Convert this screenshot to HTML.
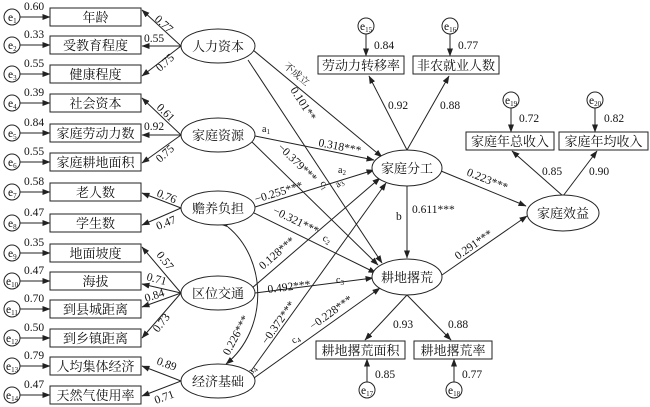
<!DOCTYPE html>
<html><head><meta charset="utf-8"><style>
html,body{margin:0;padding:0;background:#fff}
svg{display:block}
text{font-family:"Liberation Serif","Noto Serif CJK SC","Noto Sans CJK SC",serif;fill:#111}
.b{fill:#fff;stroke:#222;stroke-width:1}
.l{stroke:#222;stroke-width:1;fill:none}
.c{font-size:13px}
.n{font-size:11.5px}
.s{font-size:10px}
</style></head><body>
<svg width="650" height="407" viewBox="0 0 650 407" xmlns="http://www.w3.org/2000/svg">
<defs><marker id="a" markerWidth="8" markerHeight="6" refX="7.5" refY="3" orient="auto" markerUnits="userSpaceOnUse"><path d="M0,0 L8,3 L0,6 Z" fill="#222"/></marker></defs>

<!-- left indicators -->
<g id="left">
<rect class="b" x="50" y="8" width="91" height="18"/><text class="c" x="95.5" y="22" text-anchor="middle">年龄</text>
<rect class="b" x="50" y="36" width="91" height="18"/><text class="c" x="95.5" y="50" text-anchor="middle">受教育程度</text>
<rect class="b" x="50" y="65" width="91" height="18"/><text class="c" x="95.5" y="79" text-anchor="middle">健康程度</text>
<rect class="b" x="50" y="94" width="91" height="18"/><text class="c" x="95.5" y="108" text-anchor="middle">社会资本</text>
<rect class="b" x="50" y="124" width="91" height="18"/><text class="c" x="95.5" y="138" text-anchor="middle">家庭劳动力数</text>
<rect class="b" x="50" y="153" width="91" height="18"/><text class="c" x="95.5" y="167" text-anchor="middle">家庭耕地面积</text>
<rect class="b" x="50" y="183" width="91" height="18"/><text class="c" x="95.5" y="197" text-anchor="middle">老人数</text>
<rect class="b" x="50" y="214" width="91" height="18"/><text class="c" x="95.5" y="228" text-anchor="middle">学生数</text>
<rect class="b" x="50" y="244" width="91" height="18"/><text class="c" x="95.5" y="258" text-anchor="middle">地面坡度</text>
<rect class="b" x="50" y="272" width="91" height="18"/><text class="c" x="95.5" y="286" text-anchor="middle">海拔</text>
<rect class="b" x="50" y="300" width="91" height="18"/><text class="c" x="95.5" y="314" text-anchor="middle">到县城距离</text>
<rect class="b" x="50" y="329" width="91" height="18"/><text class="c" x="95.5" y="343" text-anchor="middle">到乡镇距离</text>
<rect class="b" x="50" y="357" width="91" height="18"/><text class="c" x="95.5" y="371" text-anchor="middle">人均集体经济</text>
<rect class="b" x="50" y="386" width="91" height="18"/><text class="c" x="95.5" y="400" text-anchor="middle">天然气使用率</text>
</g>
<!-- e circles -->
<g>
<circle class="b" cx="12" cy="17" r="8"/><text class="n" x="8" y="21">e<tspan font-size="7" dy="2">1</tspan></text><line class="l" x1="20" y1="17" x2="50" y2="17" marker-end="url(#a)"/><text class="n" x="24" y="10">0.60</text>
<circle class="b" cx="12" cy="45" r="8"/><text class="n" x="8" y="49">e<tspan font-size="7" dy="2">2</tspan></text><line class="l" x1="20" y1="45" x2="50" y2="45" marker-end="url(#a)"/><text class="n" x="24" y="38">0.33</text>
<circle class="b" cx="12" cy="74" r="8"/><text class="n" x="8" y="78">e<tspan font-size="7" dy="2">3</tspan></text><line class="l" x1="20" y1="74" x2="50" y2="74" marker-end="url(#a)"/><text class="n" x="24" y="67">0.55</text>
<circle class="b" cx="12" cy="103" r="8"/><text class="n" x="8" y="107">e<tspan font-size="7" dy="2">4</tspan></text><line class="l" x1="20" y1="103" x2="50" y2="103" marker-end="url(#a)"/><text class="n" x="24" y="96">0.39</text>
<circle class="b" cx="12" cy="133" r="8"/><text class="n" x="8" y="137">e<tspan font-size="7" dy="2">5</tspan></text><line class="l" x1="20" y1="133" x2="50" y2="133" marker-end="url(#a)"/><text class="n" x="24" y="126">0.84</text>
<circle class="b" cx="12" cy="162" r="8"/><text class="n" x="8" y="166">e<tspan font-size="7" dy="2">6</tspan></text><line class="l" x1="20" y1="162" x2="50" y2="162" marker-end="url(#a)"/><text class="n" x="24" y="155">0.55</text>
<circle class="b" cx="12" cy="192" r="8"/><text class="n" x="8" y="196">e<tspan font-size="7" dy="2">7</tspan></text><line class="l" x1="20" y1="192" x2="50" y2="192" marker-end="url(#a)"/><text class="n" x="24" y="185">0.58</text>
<circle class="b" cx="12" cy="223" r="8"/><text class="n" x="8" y="227">e<tspan font-size="7" dy="2">8</tspan></text><line class="l" x1="20" y1="223" x2="50" y2="223" marker-end="url(#a)"/><text class="n" x="24" y="216">0.47</text>
<circle class="b" cx="12" cy="253" r="8"/><text class="n" x="8" y="257">e<tspan font-size="7" dy="2">9</tspan></text><line class="l" x1="20" y1="253" x2="50" y2="253" marker-end="url(#a)"/><text class="n" x="24" y="246">0.35</text>
<circle class="b" cx="12" cy="281" r="8"/><text class="n" x="6" y="285">e<tspan font-size="7" dy="2">10</tspan></text><line class="l" x1="20" y1="281" x2="50" y2="281" marker-end="url(#a)"/><text class="n" x="24" y="274">0.47</text>
<circle class="b" cx="12" cy="309" r="8"/><text class="n" x="6" y="313">e<tspan font-size="7" dy="2">11</tspan></text><line class="l" x1="20" y1="309" x2="50" y2="309" marker-end="url(#a)"/><text class="n" x="24" y="302">0.70</text>
<circle class="b" cx="12" cy="338" r="8"/><text class="n" x="6" y="342">e<tspan font-size="7" dy="2">12</tspan></text><line class="l" x1="20" y1="338" x2="50" y2="338" marker-end="url(#a)"/><text class="n" x="24" y="331">0.50</text>
<circle class="b" cx="12" cy="366" r="8"/><text class="n" x="6" y="370">e<tspan font-size="7" dy="2">13</tspan></text><line class="l" x1="20" y1="366" x2="50" y2="366" marker-end="url(#a)"/><text class="n" x="24" y="359">0.79</text>
<circle class="b" cx="12" cy="395" r="8"/><text class="n" x="6" y="399">e<tspan font-size="7" dy="2">14</tspan></text><line class="l" x1="20" y1="395" x2="50" y2="395" marker-end="url(#a)"/><text class="n" x="24" y="388">0.47</text>
</g>

<!-- loadings from latent to indicators -->
<g>
<line class="l" x1="181" y1="46" x2="142" y2="10" marker-end="url(#a)"/><text class="n" x="154" y="20" transform="rotate(42 154 20)">0.77</text>
<line class="l" x1="181" y1="46" x2="142" y2="46" marker-end="url(#a)"/><text class="n" x="144" y="42">0.55</text>
<line class="l" x1="181" y1="46" x2="142" y2="76" marker-end="url(#a)"/><text class="n" x="160" y="72" transform="rotate(-42 160 72)">0.75</text>
<line class="l" x1="181" y1="135" x2="142" y2="98" marker-end="url(#a)"/><text class="n" x="156" y="108" transform="rotate(45 156 108)">0.61</text>
<line class="l" x1="181" y1="135" x2="142" y2="135" marker-end="url(#a)"/><text class="n" x="144" y="130">0.92</text>
<line class="l" x1="181" y1="135" x2="142" y2="163" marker-end="url(#a)"/><text class="n" x="160" y="163" transform="rotate(-42 160 163)">0.75</text>
<line class="l" x1="181" y1="208" x2="142" y2="193" marker-end="url(#a)"/><text class="n" x="156" y="196" transform="rotate(22 156 196)">0.76</text>
<line class="l" x1="181" y1="208" x2="142" y2="225" marker-end="url(#a)"/><text class="n" x="158" y="230" transform="rotate(-22 158 230)">0.47</text>
<line class="l" x1="181" y1="293" x2="142" y2="247" marker-end="url(#a)"/><text class="n" x="156" y="255" transform="rotate(52 156 255)">0.57</text>
<line class="l" x1="181" y1="293" x2="142" y2="284" marker-end="url(#a)"/><text class="n" x="146" y="280" transform="rotate(15 146 280)">0.71</text>
<line class="l" x1="181" y1="293" x2="142" y2="307" marker-end="url(#a)"/><text class="n" x="146" y="302" transform="rotate(-18 146 302)">0.84</text>
<line class="l" x1="181" y1="293" x2="142" y2="338" marker-end="url(#a)"/><text class="n" x="158" y="333" transform="rotate(-52 158 333)">0.73</text>
<line class="l" x1="181" y1="381" x2="142" y2="366" marker-end="url(#a)"/><text class="n" x="156" y="364" transform="rotate(20 156 364)">0.89</text>
<line class="l" x1="181" y1="381" x2="142" y2="396" marker-end="url(#a)"/><text class="n" x="156" y="404" transform="rotate(-20 156 404)">0.71</text>
</g>

<!-- structural paths -->
<g>
<line class="l" x1="253" y1="50" x2="382" y2="157" marker-end="url(#a)"/><text class="s" x="283" y="67" transform="rotate(40 283 67)">不成立</text>
<line class="l" x1="248" y1="60" x2="382" y2="263" marker-end="url(#a)"/><text class="n" x="290" y="90" transform="rotate(57 290 90)">0.101**</text>
<line class="l" x1="255" y1="136" x2="374" y2="160" marker-end="url(#a)"/><text class="s" x="262" y="132">a<tspan font-size="7" dy="2">1</tspan></text><text class="n" x="318" y="146" transform="rotate(11 318 146)">0.318***</text>
<line class="l" x1="252" y1="142" x2="378" y2="265" marker-end="url(#a)"/><text class="n" x="277" y="148" transform="rotate(44 277 148)">−0.379***</text><text class="s" x="320" y="183" transform="rotate(60 320 183)">c<tspan font-size="7" dy="2">1</tspan></text>
<line class="l" x1="255" y1="207" x2="374" y2="170" marker-end="url(#a)"/><text class="n" x="256" y="203" transform="rotate(-17 256 203)">−0.255***</text><text class="s" x="338" y="173">a<tspan font-size="7" dy="2">2</tspan></text>
<line class="l" x1="254" y1="213" x2="376" y2="273" marker-end="url(#a)"/><text class="n" x="272" y="213" transform="rotate(26 272 213)">−0.321***</text><text class="s" x="322" y="240" transform="rotate(26 322 240)">c<tspan font-size="7" dy="2">2</tspan></text>
<line class="l" x1="252" y1="288" x2="380" y2="178" marker-end="url(#a)"/><text class="n" x="263" y="270" transform="rotate(-41 263 270)">0.128***</text><text class="s" x="338" y="188" transform="rotate(-41 338 188)">a<tspan font-size="7" dy="2">3</tspan></text>
<line class="l" x1="255" y1="293" x2="373" y2="278" marker-end="url(#a)"/><text class="n" x="268" y="293" transform="rotate(-7 268 293)">0.492***</text><text class="s" x="336" y="283">c<tspan font-size="7" dy="2">3</tspan></text>
<line class="l" x1="251" y1="371" x2="386" y2="183" marker-end="url(#a)"/><text class="n" x="267" y="345" transform="rotate(-55 267 345)">−0.372***</text><text class="s" x="252" y="375" transform="rotate(-55 252 375)">a<tspan font-size="7" dy="2">4</tspan></text>
<line class="l" x1="254" y1="378" x2="380" y2="288" marker-end="url(#a)"/><text class="n" x="313" y="330" transform="rotate(-36 313 330)">−0.228***</text><text class="s" x="294" y="344" transform="rotate(-36 294 344)">c<tspan font-size="7" dy="2">4</tspan></text>
<path class="l" d="M228,227 C268,260 268,330 226,364" marker-start="url(#a)" marker-end="url(#a)"/>
<text class="n" x="229" y="356" transform="rotate(-62 229 356)">0.226***</text>
</g>

<!-- latent ellipses left -->
<g>
<ellipse class="b" cx="218" cy="46" rx="37" ry="17"/><text class="c" x="218" y="51" text-anchor="middle">人力资本</text>
<ellipse class="b" cx="218" cy="135" rx="37" ry="17"/><text class="c" x="218" y="140" text-anchor="middle">家庭资源</text>
<ellipse class="b" cx="218" cy="208" rx="37" ry="17"/><text class="c" x="218" y="213" text-anchor="middle">赡养负担</text>
<ellipse class="b" cx="218" cy="293" rx="37" ry="17"/><text class="c" x="218" y="298" text-anchor="middle">区位交通</text>
<ellipse class="b" cx="218" cy="381" rx="37" ry="17"/><text class="c" x="218" y="386" text-anchor="middle">经济基础</text>
</g>

<!-- right side -->
<g>
<line class="l" x1="407" y1="150" x2="369" y2="76" marker-end="url(#a)"/><text class="n" x="388" y="109">0.92</text>
<line class="l" x1="407" y1="150" x2="449" y2="76" marker-end="url(#a)"/><text class="n" x="440" y="109">0.88</text>
<line class="l" x1="407" y1="186" x2="407" y2="258" marker-end="url(#a)"/><text class="n" x="396" y="220">b</text><text class="n" x="412" y="213">0.611***</text>
<line class="l" x1="441" y1="171" x2="526" y2="206" marker-end="url(#a)"/><text class="n" x="466" y="175" transform="rotate(22 466 175)">0.223***</text>
<line class="l" x1="442" y1="275" x2="527" y2="216" marker-end="url(#a)"/><text class="n" x="458" y="260" transform="rotate(-35 458 260)">0.291***</text>
<line class="l" x1="407" y1="295" x2="365" y2="340" marker-end="url(#a)"/><text class="n" x="393" y="328">0.93</text>
<line class="l" x1="407" y1="295" x2="451" y2="340" marker-end="url(#a)"/><text class="n" x="448" y="328">0.88</text>
<line class="l" x1="563" y1="196" x2="512" y2="151" marker-end="url(#a)"/><text class="n" x="542" y="175">0.85</text>
<line class="l" x1="563" y1="196" x2="597" y2="151" marker-end="url(#a)"/><text class="n" x="589" y="175">0.90</text>

<ellipse class="b" cx="407" cy="168" rx="35" ry="18"/><text class="c" x="407" y="173" text-anchor="middle">家庭分工</text>
<ellipse class="b" cx="407" cy="277" rx="35" ry="18"/><text class="c" x="407" y="282" text-anchor="middle">耕地撂荒</text>
<ellipse class="b" cx="563" cy="213" rx="36" ry="18"/><text class="c" x="563" y="218" text-anchor="middle">家庭效益</text>

<rect class="b" x="318" y="56" width="86" height="18"/><text class="c" x="361" y="70" text-anchor="middle">劳动力转移率</text>
<rect class="b" x="413" y="56" width="86" height="18"/><text class="c" x="456" y="70" text-anchor="middle">非农就业人数</text>
<rect class="b" x="466" y="132" width="88" height="18"/><text class="c" x="510" y="146" text-anchor="middle">家庭年总收入</text>
<rect class="b" x="559" y="132" width="89" height="18"/><text class="c" x="603.5" y="146" text-anchor="middle">家庭年均收入</text>
<rect class="b" x="316" y="341" width="89" height="18"/><text class="c" x="360.5" y="355" text-anchor="middle">耕地撂荒面积</text>
<rect class="b" x="414" y="341" width="78" height="18"/><text class="c" x="453" y="355" text-anchor="middle">耕地撂荒率</text>

<circle class="b" cx="366" cy="26" r="8"/><text class="n" x="360" y="30">e<tspan font-size="7" dy="2">15</tspan></text><line class="l" x1="366" y1="34" x2="366" y2="56" marker-end="url(#a)"/><text class="n" x="374" y="49">0.84</text>
<circle class="b" cx="450" cy="26" r="8"/><text class="n" x="444" y="30">e<tspan font-size="7" dy="2">16</tspan></text><line class="l" x1="450" y1="34" x2="450" y2="56" marker-end="url(#a)"/><text class="n" x="458" y="49">0.77</text>
<circle class="b" cx="511" cy="100" r="8"/><text class="n" x="505" y="104">e<tspan font-size="7" dy="2">19</tspan></text><line class="l" x1="511" y1="108" x2="511" y2="132" marker-end="url(#a)"/><text class="n" x="519" y="122">0.72</text>
<circle class="b" cx="595" cy="100" r="8"/><text class="n" x="589" y="104">e<tspan font-size="7" dy="2">20</tspan></text><line class="l" x1="595" y1="108" x2="595" y2="132" marker-end="url(#a)"/><text class="n" x="604" y="122">0.82</text>
<circle class="b" cx="367" cy="390" r="8"/><text class="n" x="361" y="394">e<tspan font-size="7" dy="2">17</tspan></text><line class="l" x1="367" y1="382" x2="367" y2="359" marker-end="url(#a)"/><text class="n" x="375" y="378">0.85</text>
<circle class="b" cx="454" cy="390" r="8"/><text class="n" x="448" y="394">e<tspan font-size="7" dy="2">18</tspan></text><line class="l" x1="454" y1="382" x2="454" y2="359" marker-end="url(#a)"/><text class="n" x="462" y="378">0.77</text>
</g>
</svg>
</body></html>
